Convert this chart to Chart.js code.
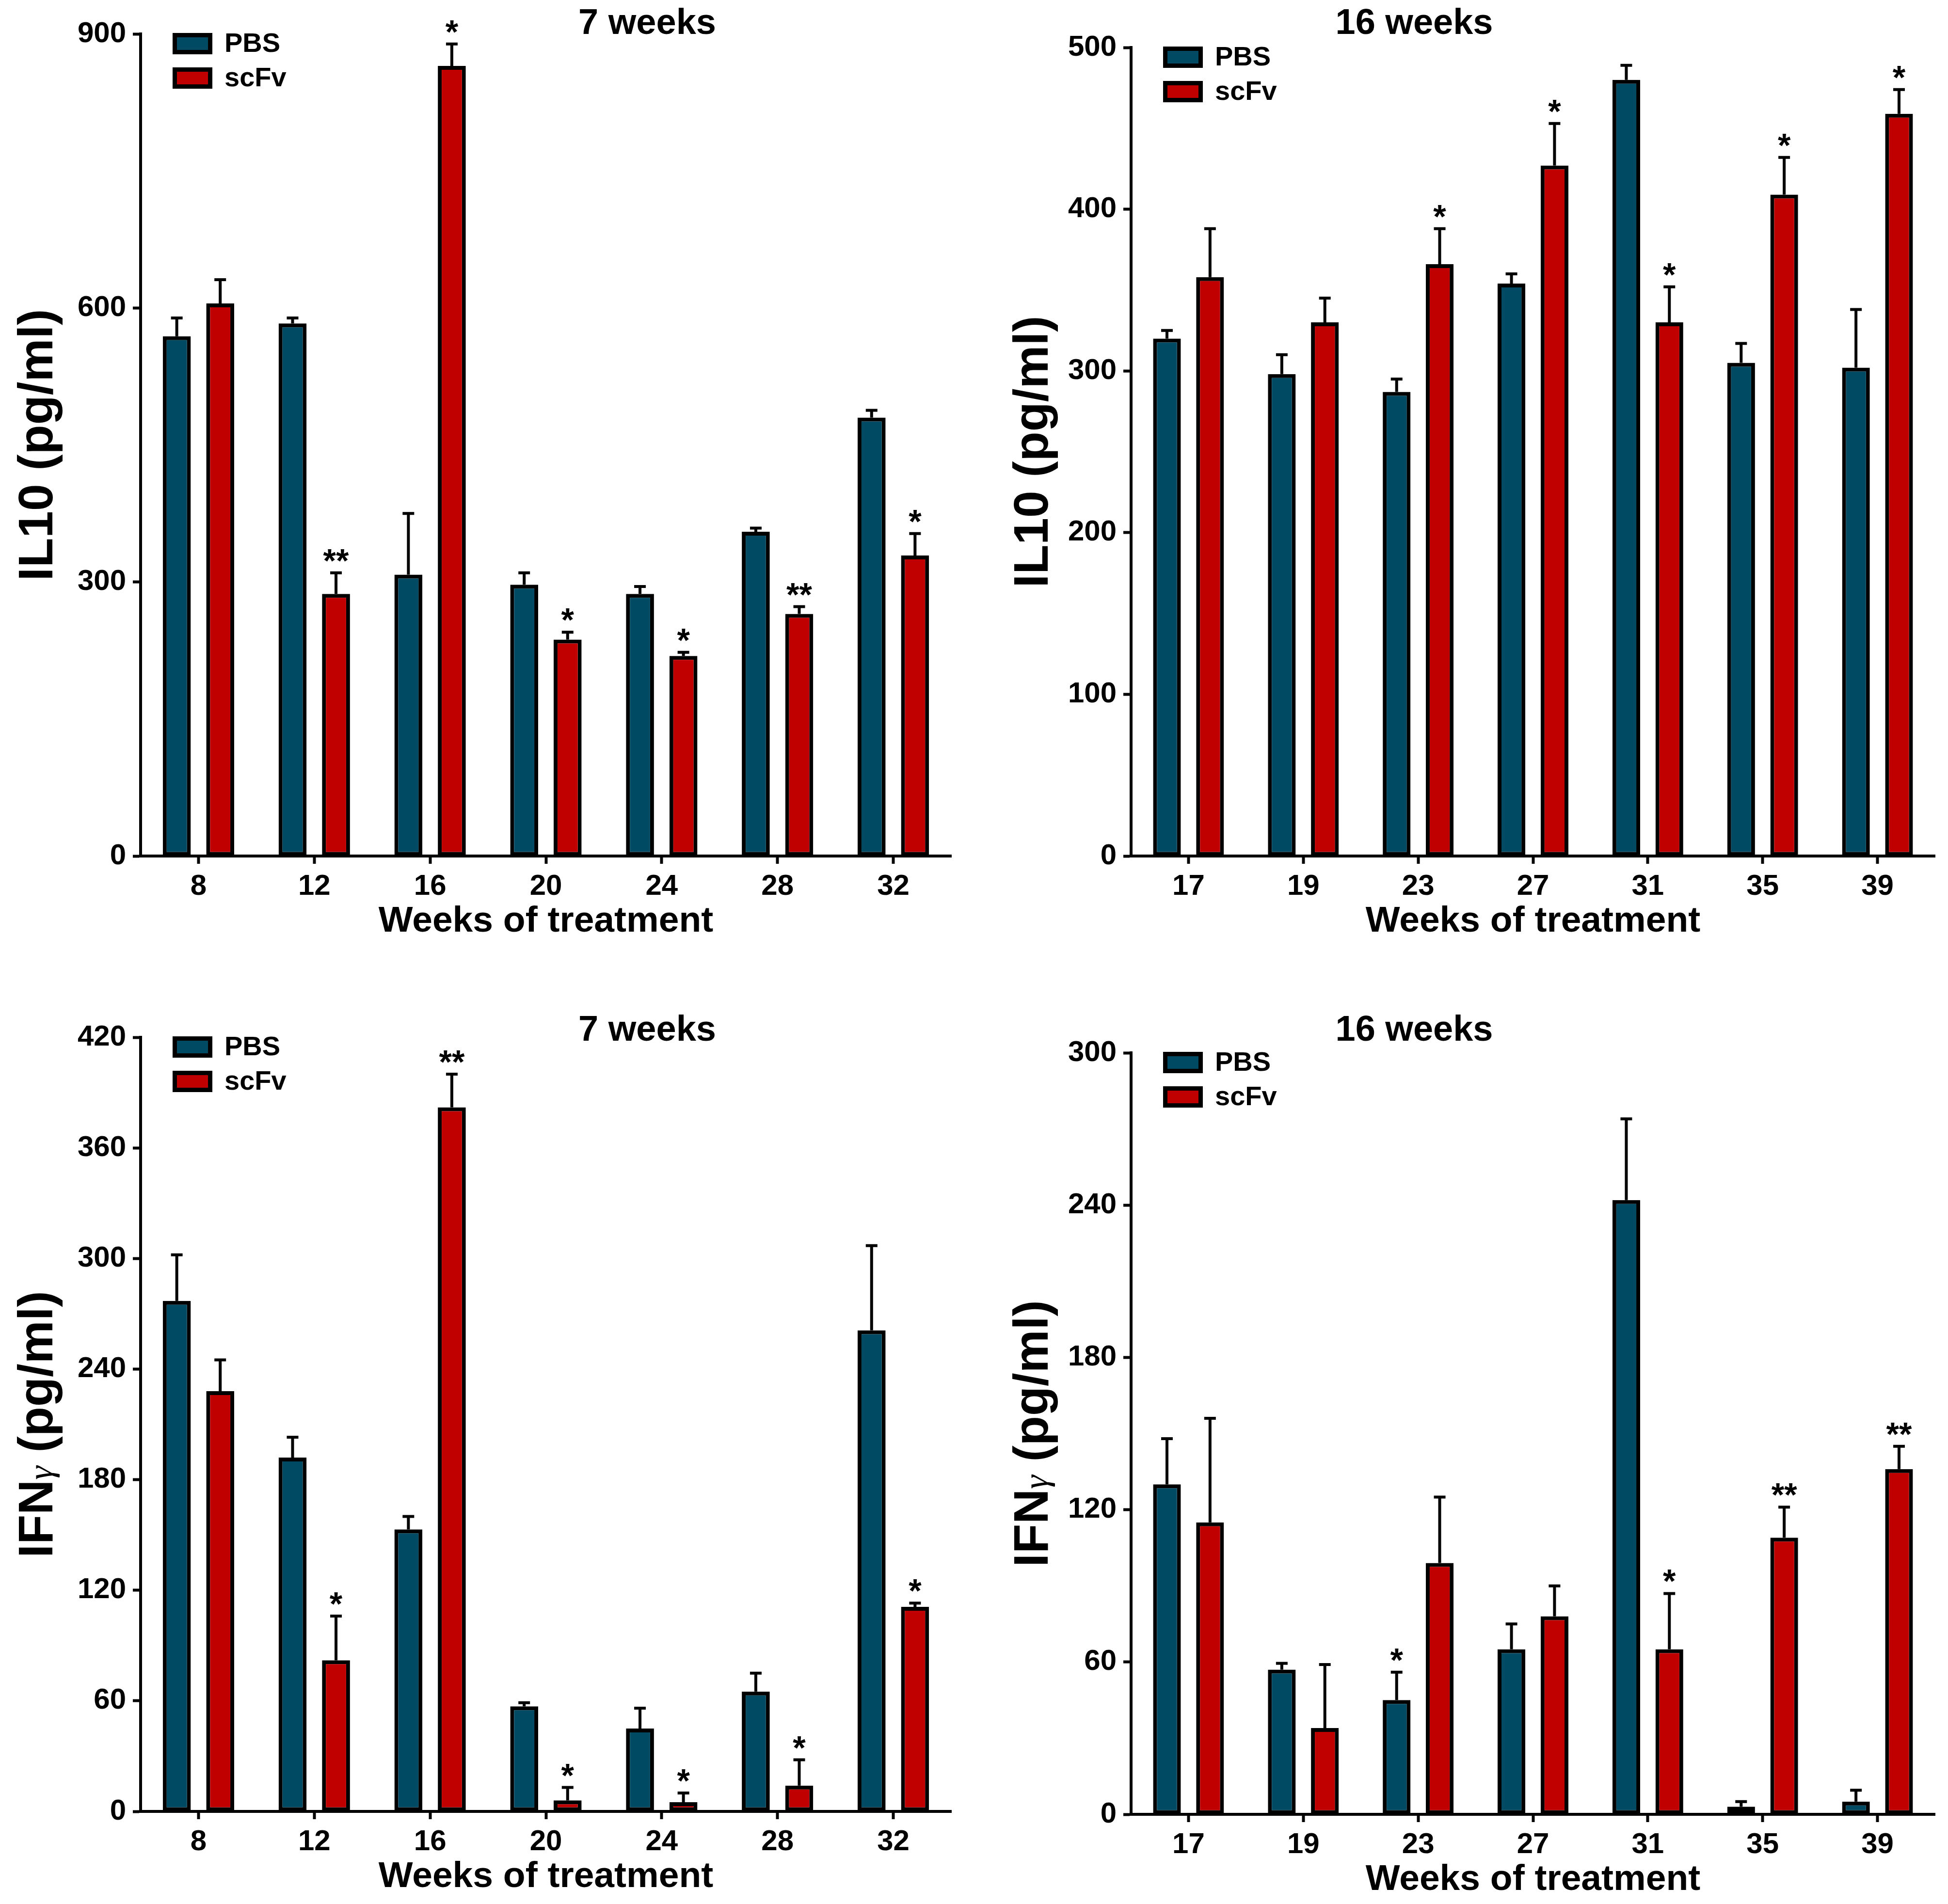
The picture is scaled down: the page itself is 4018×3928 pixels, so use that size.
<!DOCTYPE html>
<html lang="en">
<head>
    <meta charset="UTF-8">
    <title>IL10 and IFNγ after scFv treatment</title>
    <style>
        body {
            margin: 0;
            background: #fff;
            width: 4018px;
            height: 3928px;
            position: relative;
            overflow: hidden;
        }
        canvas {
            position: absolute;
        }
    </style>
</head>
<body>
    <canvas id="il10Early" width="2009" height="1964" style="left:0;top:0"></canvas>
    <canvas id="il10Late" width="2009" height="1964" style="left:2009px;top:0"></canvas>
    <canvas id="ifnEarly" width="2009" height="1964" style="left:0;top:1964px"></canvas>
    <canvas id="ifnLate" width="2009" height="1964" style="left:2009px;top:1964px"></canvas>

    <script src="https://cdn.jsdelivr.net/npm/chart.js"></script>
    <script>
        const weeksEarly = ['8', '12', '16', '20', '24', '28', '32'];
        const weeksLate = ['17', '19', '23', '27', '31', '35', '39'];

        // IL10, 7 weeks
        const il10EarlyPbs = [569, 583, 308, 297, 287, 355, 480];
        const il10EarlyPbsErr = [20, 6, 67, 13, 8, 4, 8];
        const il10EarlyScfv = [605, 287, 865, 237, 219, 265, 329];
        const il10EarlyScfvErr = [26, 23, 24, 8, 4, 8, 24];
        const il10EarlyScfvStars = ['', '**', '*', '*', '*', '**', '*'];

        // IL10, 16 weeks
        const il10LatePbs = [320, 298, 287, 354, 480, 305, 302];
        const il10LatePbsErr = [5, 12, 8, 6, 9, 12, 36];
        const il10LateScfv = [358, 330, 366, 427, 330, 409, 459];
        const il10LateScfvErr = [30, 15, 22, 26, 22, 23, 15];
        const il10LateScfvStars = ['', '', '*', '*', '*', '*', '*'];

        // IFNγ, 7 weeks
        const ifnEarlyPbs = [277, 192, 153, 57, 45, 65, 261];
        const ifnEarlyPbsErr = [25, 11, 7, 2, 11, 10, 46];
        const ifnEarlyScfv = [228, 82, 382, 6, 5, 14, 111];
        const ifnEarlyScfvErr = [17, 24, 18, 7, 5, 14, 2];
        const ifnEarlyScfvStars = ['', '*', '**', '*', '*', '*', '*'];

        // IFNγ, 16 weeks
        const ifnLatePbs = [130, 57, 45, 65, 242, 3, 5];
        const ifnLatePbsErr = [18, 2.5, 11, 10, 32, 2, 4.5];
        const ifnLatePbsStars = ['', '', '*', '', '', '', ''];
        const ifnLateScfv = [115, 34, 99, 78, 65, 109, 136];
        const ifnLateScfvErr = [41, 25, 26, 12, 22, 12, 9];
        const ifnLateScfvStars = ['', '', '', '', '*', '**', '**'];

        const FONT = '"Liberation Sans", Arial, sans-serif';
        const PBS_COLOR = '#004b63';
        const SCFV_COLOR = '#c00000';

        // draws error bars, stars, legend, titles
        const extras = {
            id: 'extras',
            afterDatasetsDraw(chart) {
                const ctx = chart.ctx;
                const yScale = chart.scales.y;
                const area = chart.chartArea;
                const o = chart.options.plugins.extras;

                ctx.save();
                chart.data.datasets.forEach((ds, i) => {
                    const meta = chart.getDatasetMeta(i);
                    meta.data.forEach((bar, j) => {
                        const top = yScale.getPixelForValue(ds.data[j] + ds.errors[j]);
                        ctx.strokeStyle = '#000';
                        ctx.lineWidth = 6;
                        ctx.beginPath();
                        ctx.moveTo(bar.x, bar.y);
                        ctx.lineTo(bar.x, top);
                        ctx.moveTo(bar.x - 12, top);
                        ctx.lineTo(bar.x + 12, top);
                        ctx.stroke();
                        const star = ds.stars ? ds.stars[j] : '';
                        if (star) {
                            ctx.fillStyle = '#000';
                            ctx.font = 'bold 68px ' + FONT;
                            ctx.textAlign = 'center';
                            ctx.textBaseline = 'alphabetic';
                            ctx.fillText(star, bar.x, top - 2);
                        }
                    });
                });

                // legend
                chart.data.datasets.forEach((ds, i) => {
                    const bx = area.left + 66;
                    const cy = area.top + 20 + i * 71;
                    ctx.fillStyle = '#000';
                    ctx.fillRect(bx, cy - 22, 82, 44);
                    ctx.fillStyle = ds.backgroundColor;
                    ctx.fillRect(bx + 9, cy - 13, 64, 26);
                    ctx.fillStyle = '#000';
                    ctx.font = 'bold 56px ' + FONT;
                    ctx.textAlign = 'left';
                    ctx.textBaseline = 'middle';
                    ctx.fillText(ds.label, bx + 107, cy + 2);
                });

                // panel title
                ctx.font = 'bold 74px ' + FONT;
                ctx.textAlign = 'center';
                ctx.textBaseline = 'middle';
                ctx.fillText(o.title, o.titleX, o.titleY);

                // x title
                ctx.font = 'bold 75px ' + FONT;
                ctx.fillText('Weeks of treatment', (area.left + area.right) / 2, area.bottom + 135);

                // y title, rotated, mixed fonts
                ctx.translate(o.yTitleX, (area.top + area.bottom) / 2);
                ctx.rotate(-Math.PI / 2);
                let total = 0;
                o.yTitle.forEach(p => {
                    ctx.font = p.font;
                    total += ctx.measureText(p.text).width;
                });
                let x = -total / 2;
                ctx.textAlign = 'left';
                ctx.textBaseline = 'alphabetic';
                o.yTitle.forEach(p => {
                    ctx.font = p.font;
                    ctx.fillText(p.text, x, 36);
                    x += ctx.measureText(p.text).width;
                });
                ctx.restore();
            }
        };

        function makeChart(id, p) {
            const tickFont = { family: FONT, size: 60, weight: 'bold' };
            const canvasH = 1964;
            new Chart(document.getElementById(id), {
                type: 'bar',
                data: {
                    labels: p.labels,
                    datasets: [
                        {
                            label: 'PBS',
                            data: p.pbs,
                            errors: p.pbsErr,
                            stars: p.pbsStars,
                            backgroundColor: PBS_COLOR,
                            borderColor: '#000',
                            borderWidth: 8,
                            borderSkipped: false
                        },
                        {
                            label: 'scFv',
                            data: p.scfv,
                            errors: p.scfvErr,
                            stars: p.scfvStars,
                            backgroundColor: SCFV_COLOR,
                            borderColor: '#000',
                            borderWidth: 8,
                            borderSkipped: false
                        }
                    ]
                },
                options: {
                    responsive: false,
                    animation: false,
                    devicePixelRatio: 1,
                    categoryPercentage: 0.75,
                    barPercentage: 0.644,
                    layout: {
                        padding: { left: 0, top: p.area[1], right: 2009 - p.area[2], bottom: 0 }
                    },
                    plugins: {
                        legend: { display: false },
                        tooltip: { enabled: false },
                        extras: {
                            title: p.title,
                            titleX: p.titleX,
                            titleY: p.titleY,
                            yTitle: p.yTitle,
                            yTitleX: p.yTitleX
                        }
                    },
                    scales: {
                        x: {
                            offset: true,
                            grid: {
                                drawOnChartArea: false,
                                offset: false,
                                tickLength: 16,
                                tickWidth: 6,
                                tickColor: '#000'
                            },
                            border: { display: true, width: 6, color: '#000' },
                            ticks: { font: tickFont, color: '#000', padding: 11, maxRotation: 0 },
                            afterFit(scale) { scale.height = canvasH - p.area[3]; }
                        },
                        y: {
                            min: 0,
                            max: p.max,
                            grid: {
                                drawOnChartArea: false,
                                tickLength: 16,
                                tickWidth: 6,
                                tickColor: '#000'
                            },
                            border: { display: true, width: 6, color: '#000' },
                            ticks: { stepSize: p.step, font: tickFont, color: '#000', padding: 14 },
                            afterFit(scale) { scale.width = p.area[0]; }
                        }
                    }
                },
                plugins: [extras]
            });
        }

        const il10Title = [
            { text: 'IL10 (pg/ml)', font: 'bold 100px ' + FONT }
        ];
        const ifnTitle = [
            { text: 'IFN', font: 'bold 100px ' + FONT },
            { text: 'γ', font: 'italic 72px "Liberation Serif", serif' },
            { text: ' (pg/ml)', font: 'bold 100px ' + FONT }
        ];

        // area = [left, top, right, bottom] inside each canvas
        makeChart('il10Early', {
            labels: weeksEarly,
            pbs: il10EarlyPbs, pbsErr: il10EarlyPbsErr, pbsStars: null,
            scfv: il10EarlyScfv, scfvErr: il10EarlyScfvErr, scfvStars: il10EarlyScfvStars,
            max: 900, step: 300,
            area: [290, 70, 1962, 1766],
            title: '7 weeks', titleX: 1335, titleY: 50,
            yTitle: il10Title, yTitleX: 72
        });
        makeChart('il10Late', {
            labels: weeksLate,
            pbs: il10LatePbs, pbsErr: il10LatePbsErr, pbsStars: null,
            scfv: il10LateScfv, scfvErr: il10LateScfvErr, scfvStars: il10LateScfvStars,
            max: 500, step: 100,
            area: [324, 98, 1982, 1766],
            title: '16 weeks', titleX: 908, titleY: 50,
            yTitle: il10Title, yTitleX: 116
        });
        makeChart('ifnEarly', {
            labels: weeksEarly,
            pbs: ifnEarlyPbs, pbsErr: ifnEarlyPbsErr, pbsStars: null,
            scfv: ifnEarlyScfv, scfvErr: ifnEarlyScfvErr, scfvStars: ifnEarlyScfvStars,
            max: 420, step: 60,
            area: [290, 176, 1962, 1773],
            title: '7 weeks', titleX: 1335, titleY: 163,
            yTitle: ifnTitle, yTitleX: 72
        });
        makeChart('ifnLate', {
            labels: weeksLate,
            pbs: ifnLatePbs, pbsErr: ifnLatePbsErr, pbsStars: ifnLatePbsStars,
            scfv: ifnLateScfv, scfvErr: ifnLateScfvErr, scfvStars: ifnLateScfvStars,
            max: 300, step: 60,
            area: [324, 208, 1982, 1779],
            title: '16 weeks', titleX: 908, titleY: 163,
            yTitle: ifnTitle, yTitleX: 116
        });
    </script>
</body>
</html>
